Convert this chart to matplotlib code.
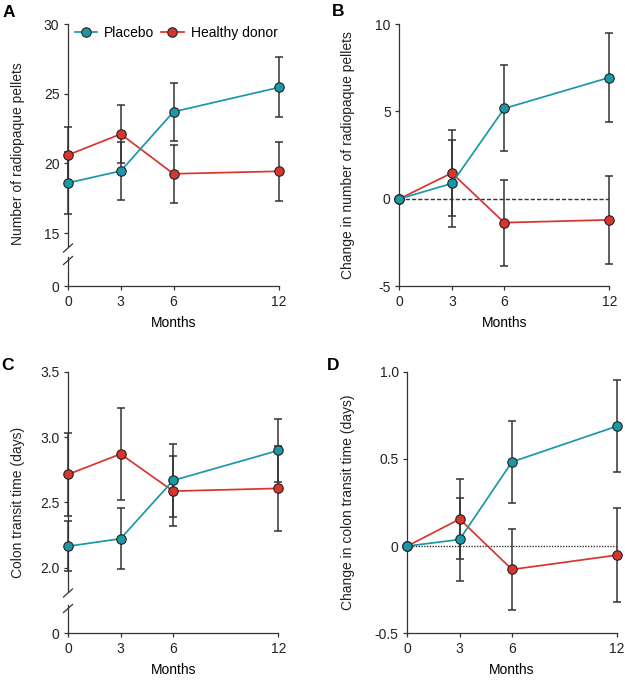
import numpy as np
import matplotlib
matplotlib.use('Agg')
import matplotlib.pyplot as plt
from matplotlib.lines import Line2D

plt.rcParams['font.family'] = ['Liberation Sans', 'DejaVu Sans']

# months of follow-up
months = [0, 3, 6, 12]

# A: number of radiopaque pellets
pellets_placebo = [18.6, 19.45, 23.7, 25.45]
pellets_placebo_err = [2.2, 2.1, 2.1, 2.15]
pellets_donor = [20.6, 22.1, 19.25, 19.43]
pellets_donor_err = [2.0, 2.1, 2.1, 2.1]

# B: change in number of radiopaque pellets
dpellets_placebo = [0, 0.88, 5.17, 6.94]
dpellets_placebo_err = [0, 2.48, 2.46, 2.53]
dpellets_donor = [0, 1.48, -1.36, -1.2]
dpellets_donor_err = [0, 2.45, 2.46, 2.5]

# C: colon transit time (days)
transit_placebo = [2.164, 2.222, 2.668, 2.897]
transit_placebo_err = [0.19, 0.233, 0.28, 0.24]
transit_donor = [2.714, 2.87, 2.586, 2.607]
transit_donor_err = [0.32, 0.35, 0.268, 0.325]

# D: change in colon transit time (days)
dtransit_placebo = [0, 0.038, 0.483, 0.687]
dtransit_placebo_err = [0, 0.24, 0.235, 0.263]
dtransit_donor = [0, 0.155, -0.134, -0.052]
dtransit_donor_err = [0, 0.228, 0.231, 0.268]

TEAL = '#1a98a6'
RED = '#d8352f'
DARK = '#333333'
FS = 10

W, H = 625, 680
fig = plt.figure(figsize=(W / 100, H / 100), dpi=100)


def rect(left, top, right, bottom):
    return [left / W, 1 - bottom / H, (right - left) / W, (bottom - top) / H]


def style_axis(ax):
    for side in ['top', 'right']:
        ax.spines[side].set_visible(False)
    for side in ['left', 'bottom']:
        ax.spines[side].set_color(DARK)
        ax.spines[side].set_linewidth(0.9)
    ax.tick_params(direction='out', length=3, width=0.9, color=DARK,
                   labelsize=FS, labelcolor='#222222', pad=3.2)


def draw_series(ax, y1, e1, y2, e2):
    # red first so the placebo markers sit on top
    for y, e in [(y2, e2), (y1, e1)]:
        ax.errorbar(months, y, yerr=e, fmt='none', ecolor=DARK, elinewidth=1.1,
                    capsize=2.6, capthick=1.1, zorder=2, clip_on=False)
    for y, c in [(y2, RED), (y1, TEAL)]:
        ax.plot(months, y, color=c, lw=1.25, zorder=3, clip_on=False,
                marker='o', ms=6.8, mfc=c, mec='#222222', mew=0.8)


def broken_panel(top_rect, low_rect, ylim, yticks, y1, e1, y2, e2, ytick_labels):
    ax = fig.add_axes(rect(*top_rect))
    style_axis(ax)
    ax.spines['bottom'].set_visible(False)
    ax.tick_params(axis='x', bottom=False, labelbottom=False)
    ax.set_xlim(0, 12)
    ax.set_ylim(*ylim)
    ax.set_yticks(yticks)
    ax.set_yticklabels(ytick_labels)
    draw_series(ax, y1, e1, y2, e2)

    low = fig.add_axes(rect(*low_rect))
    style_axis(low)
    low.set_xlim(0, 12)
    low.set_ylim(0, 1)
    low.set_yticks([0])
    low.set_xticks(months)
    low.set_xlabel('Months', fontsize=FS, labelpad=5)

    # slashes where the y axis is broken
    w_ax = top_rect[2] - top_rect[0]
    h_top = top_rect[3] - top_rect[1]
    h_low = low_rect[3] - low_rect[1]
    dx = 4.5 / w_ax
    ax.plot([-dx, dx], [-6.3 / h_top, 1.7 / h_top], transform=ax.transAxes,
            color=DARK, lw=0.9, clip_on=False)
    low.plot([-dx, dx], [1 - 7.5 / h_low, 1 + 0.5 / h_low], transform=low.transAxes,
             color=DARK, lw=0.9, clip_on=False)
    return ax


def change_panel(r, ylim, yticks, ytick_labels, y1, e1, y2, e2, ls):
    ax = fig.add_axes(rect(*r))
    style_axis(ax)
    ax.set_xlim(0, 12)
    ax.set_ylim(*ylim)
    ax.set_yticks(yticks)
    ax.set_yticklabels(ytick_labels)
    ax.set_xticks(months)
    ax.set_xlabel('Months', fontsize=FS, labelpad=5)
    ax.axhline(0, color=DARK, lw=1.0, ls=ls, zorder=1)
    draw_series(ax, y1, e1, y2, e2)
    return ax


# A
axA = broken_panel((68, 24, 279, 245.7), (68, 257, 279, 286), (14.09, 30), [15, 20, 25, 30],
                   pellets_placebo, pellets_placebo_err, pellets_donor, pellets_donor_err,
                   ['15', '20', '25', '30'])
handles = [Line2D([], [], color=TEAL, lw=1.25, marker='o', ms=6.8, mfc=TEAL, mec='#222222', mew=0.8),
           Line2D([], [], color=RED, lw=1.25, marker='o', ms=6.8, mfc=RED, mec='#222222', mew=0.8)]
axA.legend(handles, ['Placebo', 'Healthy donor'], ncol=2, frameon=False, loc='center left',
           bbox_to_anchor=(7 / 211, 1 - 9 / 221.7), fontsize=FS, handlelength=1.6, handletextpad=0.5,
           columnspacing=0.5, borderpad=0, borderaxespad=0)

# B
change_panel((399.3, 24, 609.3, 286.3), (-5, 10), [-5, 0, 5, 10], ['-5', '0', '5', '10'],
             dpellets_placebo, dpellets_placebo_err, dpellets_donor, dpellets_donor_err, (0, (3, 1.5)))

# C
broken_panel((68, 371.7, 278.3, 590.7), (68, 605, 278.3, 633.3), (1.824, 3.5), [2.0, 2.5, 3.0, 3.5],
             transit_placebo, transit_placebo_err, transit_donor, transit_donor_err,
             ['2.0', '2.5', '3.0', '3.5'])

# D
change_panel((407.3, 371.7, 616.7, 633.3), (-0.5, 1.0), [-0.5, 0, 0.5, 1.0], ['-0.5', '0', '0.5', '1.0'],
             dtransit_placebo, dtransit_placebo_err, dtransit_donor, dtransit_donor_err, (0, (1, 1)))

# y labels centred on each panel
ylabels = [(18.5, 154, 'Number of radiopaque pellets'),
           (347.5, 155, 'Change in number of radiopaque pellets'),
           (18.5, 502.5, 'Colon transit time (days)'),
           (348, 502, 'Change in colon transit time (days)')]
for x, y, s in ylabels:
    fig.text(x / W, 1 - y / H, s, rotation=90, ha='center', va='center', fontsize=FS, color='#222222')

# panel letters
for x, y, s in [(9, 12.5, 'A'), (338, 11.5, 'B'), (7, 365, 'C'), (333, 366, 'D')]:
    fig.text(x / W, 1 - y / H, s, ha='center', va='center', fontsize=12.5, fontweight='bold')

fig.savefig('out.png', dpi=100)
